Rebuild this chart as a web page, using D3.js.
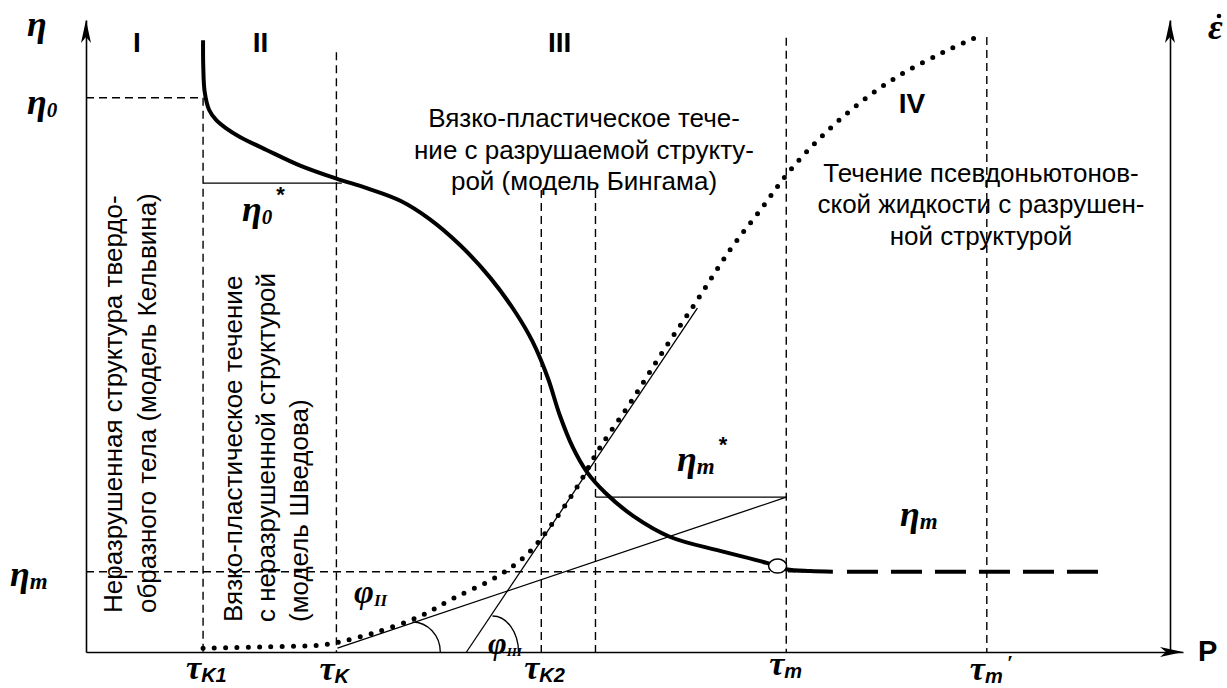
<!DOCTYPE html>
<html><head><meta charset="utf-8">
<script src="https://cdn.jsdelivr.net/npm/d3@7"></script>
<style>body{margin:0;background:#fff}svg{display:block}</style>
</head><body>
<svg id="c" width="1227" height="688"></svg>
<script>
// ---------------- data ----------------
// abscissa: stress τ (arbitrary units 0..100), ordinate: η and ε̇ (arbitrary units 0..100)
const regionNames = ["I", "II", "III", "IV"];
const tauNames = ["K1", "K", "K2", "m", "m"];
const tauValues = [10.8, 23.1, 42.0, 64.6, 83.1];
const tauExtra = 47.0;          // second boundary inside region III
const eta0 = 87.7, eta0Star = 74.2, etaMStar = 24.5, etaM = 12.7;

// viscosity curve η(τ)
const etaTau = [10.8, 10.82, 10.95, 11.35, 12.0, 12.9, 14.2, 16.7, 19.7, 23.1, 25.9, 29.0, 31.7, 34.5, 37.3, 39.6, 41.2, 42.6, 43.7, 44.9, 46.2, 47.9, 50.5, 53.9, 58.5, 62.8, 64.6, 66.8, 68.9];
const etaVal = [96.8, 92.5, 88.6, 85.8, 84.2, 82.9, 81.5, 79.4, 77.0, 74.9, 73.4, 71.4, 68.5, 64.4, 59.2, 53.8, 49.1, 43.4, 37.5, 32.4, 28.5, 25.2, 21.5, 18.2, 16.0, 14.1, 13.1, 12.8, 12.7];
// Newtonian plateau (dashed) τ range
const plateauTau = [70.2, 93.5];
const breakPoint = [63.8, 13.6];

// strain-rate curve ε̇(τ) (dotted)
const rateTau = [10.8, 16.1, 21.6, 23.4, 26.5, 30.6, 33.9, 37.9, 40.6, 42.8, 45.3, 47.4, 50.2, 53.2, 56.4, 59.4, 62.2, 64.9, 68.0, 71.4, 75.1, 79.1, 82.2];
const rateVal = [0.6, 0.8, 1.1, 1.6, 3.0, 5.5, 8.5, 11.9, 15.3, 19.8, 26.1, 32.3, 39.4, 47.5, 55.7, 63.6, 69.9, 76.1, 81.8, 86.9, 91.3, 94.9, 97.3];

// tangent lines
const tangentII = [[23.2, 0.6], [64.6, 24.5]];
const tangentIII = [[35.1, 0.0], [56.4, 54.4]];

// texts
const textIII = ["Вязко-пластическое тече-", "ние с разрушаемой структу-", "рой (модель Бингама)"];
const textIV = ["Течение псевдоньютонов-", "ской жидкости с разрушен-", "ной структурой"];
const textI = ["Неразрушенная структура твердо-", "образного тела (модель Кельвина)"];
const textII = ["Вязко-пластическое течение", "с неразрушенной структурой", "(модель Шведова)"];

// ---------------- drawing ----------------
const svg = d3.select("#c");
const x = d3.scaleLinear().domain([0, 100]).range([86, 1170]);
const y = d3.scaleLinear().domain([0, 100]).range([652, 20]);
const xAxisScale = d3.scaleLinear().domain([0, 101.2]).range([86, 1183]);

const SERIF = "'Liberation Serif', 'DejaVu Serif', serif";
const SANS = "'Liberation Sans', Arial, sans-serif";

// axes (domain lines only)
const axL = svg.append("g").attr("transform", `translate(${x(0)},0)`)
  .call(d3.axisLeft(y).tickValues([]).tickSizeOuter(0));
const axR = svg.append("g").attr("transform", `translate(${x(100)},0)`)
  .call(d3.axisRight(y).tickValues([]).tickSizeOuter(0));
const axB = svg.append("g").attr("transform", `translate(0,${y(0)})`)
  .call(d3.axisBottom(xAxisScale).tickValues([]).tickSizeOuter(0));
[axL, axR, axB].forEach(g => g.select(".domain").attr("stroke", "#000").attr("stroke-width", 1.6));

// arrow heads
function arrowUp(cx, tip) {
  svg.append("path").attr("d", `M${cx},${tip} L${cx - 5},${tip + 23} L${cx},${tip + 17} L${cx + 5},${tip + 23} Z`).attr("fill", "#000");
}
function arrowRight(tip, cy) {
  svg.append("path").attr("d", `M${tip},${cy} L${tip - 23},${cy - 5} L${tip - 17},${cy} L${tip - 23},${cy + 5} Z`).attr("fill", "#000");
}
arrowUp(x(0), y(100));
arrowUp(x(100), y(100));
arrowRight(xAxisScale(101.2), y(0));

const dashed = g => g.attr("stroke", "#000").attr("stroke-width", 1.4).attr("stroke-dasharray", "8,5").attr("fill", "none");
const thin = g => g.attr("stroke", "#000").attr("stroke-width", 1.3).attr("fill", "none");

// vertical boundaries
const vLines = [
  [tauValues[0], eta0], [tauValues[1], 94.9], [tauValues[2], 73.1],
  [tauExtra, 73.1], [tauValues[3], 97.2], [tauValues[4], 97.3]
];
vLines.forEach(([t, top]) => {
  svg.append("line").attr("x1", x(t)).attr("x2", x(t)).attr("y1", y(top)).attr("y2", y(0)).call(dashed);
});
// horizontal dashed levels
svg.append("line").attr("x1", x(0)).attr("x2", x(tauValues[0])).attr("y1", y(eta0)).attr("y2", y(eta0)).call(dashed);
svg.append("line").attr("x1", x(0)).attr("x2", x(68)).attr("y1", y(etaM)).attr("y2", y(etaM)).call(dashed);

// solid helper lines
svg.append("line").attr("x1", x(tauValues[0])).attr("x2", x(23.6)).attr("y1", y(eta0Star)).attr("y2", y(eta0Star)).call(thin);
svg.append("line").attr("x1", x(tauExtra)).attr("x2", x(tauValues[3])).attr("y1", y(etaMStar)).attr("y2", y(etaMStar)).call(thin);

const line = d3.line().x(d => x(d[0])).y(d => y(d[1]));
svg.append("path").attr("d", line(tangentII)).call(thin);
svg.append("path").attr("d", line(tangentIII)).call(thin);

// angle arcs
function angleArc(t0, rx, ry) {
  const cx = x(t0), cy = y(0);
  svg.append("path").attr("d", `M${cx},${cy - ry} A${rx},${ry} 0 0 1 ${cx + rx},${cy}`).call(thin);
}
angleArc(30.1, 28, 30);
angleArc(37.5, 26, 36);

// dotted strain-rate curve
const curve = d3.line().x(d => x(d[0])).y(d => y(d[1])).curve(d3.curveCatmullRom.alpha(0.5));
svg.append("path").attr("d", curve(rateTau.map((t, i) => [t, rateVal[i]])))
  .attr("fill", "none").attr("stroke", "#000").attr("stroke-width", 5)
  .attr("stroke-linecap", "round").attr("stroke-dasharray", "0,11.3");

// viscosity curve
svg.append("path").attr("d", curve(etaTau.map((t, i) => [t, etaVal[i]])))
  .attr("fill", "none").attr("stroke", "#000").attr("stroke-width", 4).attr("stroke-linecap", "butt");
// plateau
svg.append("line").attr("x1", x(plateauTau[0])).attr("x2", x(plateauTau[1]))
  .attr("y1", y(etaM)).attr("y2", y(etaM))
  .attr("stroke", "#000").attr("stroke-width", 4).attr("stroke-dasharray", "31,13");
// break point
svg.append("ellipse").attr("cx", x(breakPoint[0])).attr("cy", y(breakPoint[1])).attr("rx", 9).attr("ry", 7)
  .attr("fill", "#fff").attr("stroke", "#000").attr("stroke-width", 1.5);

// region numerals
const regionPos = [[4.7, 94.9], [16.1, 94.9], [43.7, 94.9], [76.2, 85.3]];
regionNames.forEach((r, i) => {
  svg.append("text").attr("x", x(regionPos[i][0])).attr("y", y(regionPos[i][1]))
    .attr("text-anchor", "middle").attr("font-family", SANS).attr("font-weight", "bold")
    .attr("font-size", 28).text(r);
});

// horizontal block texts
function block(lines, cx, baselines) {
  lines.forEach((s, i) => {
    svg.append("text").attr("x", cx).attr("y", baselines[i]).attr("text-anchor", "middle")
      .attr("font-family", SANS).attr("font-size", 26).text(s);
  });
}
block(textIII, 584, [127, 159, 190]);
block(textIV, 981, [182, 213, 245]);

// vertical texts
function vblock(lines, xs, startY) {
  lines.forEach((s, i) => {
    svg.append("text").attr("transform", `translate(${xs[i]},${startY}) rotate(-90)`)
      .attr("font-family", SANS).attr("font-size", 26).text(s);
  });
}
vblock(textI, [122, 156], 613);
vblock(textII, [242, 275, 308], 622);

// greek symbols
function sym(px, py, main, size, sub, subSize, subDy, sup) {
  const t = svg.append("text").attr("x", px).attr("y", py)
    .attr("font-family", SERIF).attr("font-style", "italic").attr("font-weight", "bold");
  t.append("tspan").attr("font-size", size).text(main);
  if (sub) t.append("tspan").attr("font-size", subSize).attr("dy", subDy).text(sub);
  if (sup) t.append("tspan").attr("font-size", 22).attr("dx", 4).attr("dy", -22).attr("font-family", SANS).attr("font-style", "normal").text(sup);
}
sym(27, 36, "η", 36);
sym(27, 114, "η", 36, "0", 21, 3);
sym(10, 586, "η", 36, "m", 23, 3);
sym(242, 221, "η", 36, "0", 21, 3, "*");
sym(677, 471, "η", 36, "m", 23, 3, "*");
sym(900, 526, "η", 36, "m", 23, 3);
sym(354, 603, "φ", 34, "II", 17, 3);
sym(488, 654, "φ", 32, "III", 13, 2);

// ε̇ on the right axis
svg.append("text").attr("x", 1208).attr("y", 39).attr("font-family", SERIF)
  .attr("font-style", "italic").attr("font-weight", "bold").attr("font-size", 36).text("ε");
svg.append("circle").attr("cx", 1219).attr("cy", 16).attr("r", 2.3).attr("fill", "#000");

// P label
svg.append("text").attr("x", 1198).attr("y", 661).attr("font-family", SANS)
  .attr("font-weight", "bold").attr("font-size", 29).text("P");

// τ labels under axis
const tauLabelY = [679, 680, 679, 675, 680];
tauValues.forEach((t, i) => {
  const t0 = svg.append("text").attr("x", x(t) - 17).attr("y", tauLabelY[i])
    .attr("font-family", SERIF).attr("font-style", "italic").attr("font-weight", "bold");
  t0.append("tspan").attr("font-size", 34).text("τ");
  t0.append("tspan").attr("font-size", 20).attr("dy", 3).attr("font-family", SANS).text(tauNames[i]);
});
// prime on τm'
svg.append("text").attr("x", x(tauValues[4]) + 20).attr("y", 670).attr("font-family", SERIF)
  .attr("font-style", "italic").attr("font-weight", "bold").attr("font-size", 22).text("′");
</script>
</body></html>
